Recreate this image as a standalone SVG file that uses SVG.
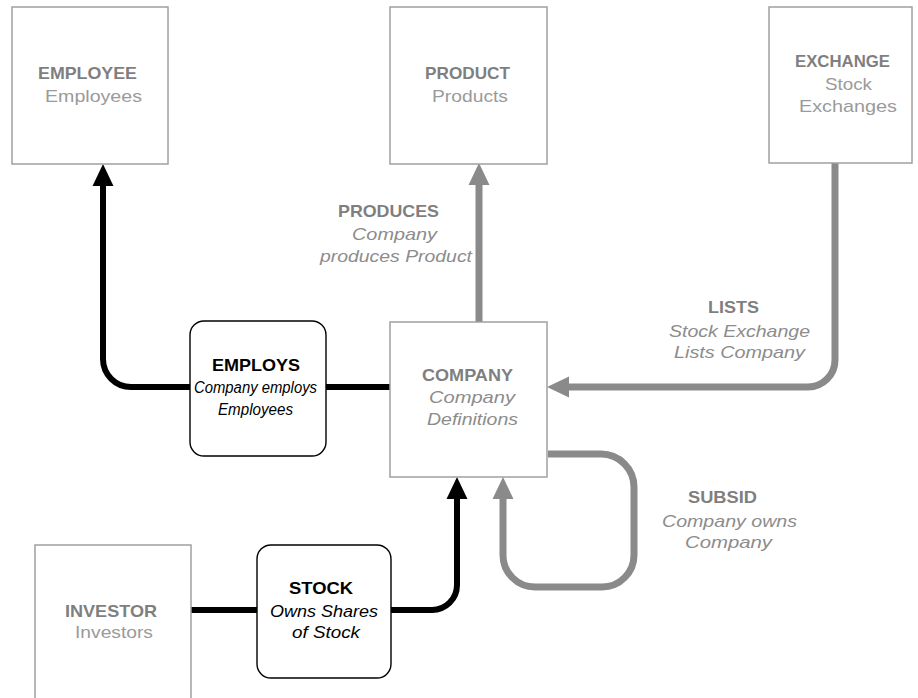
<svg xmlns="http://www.w3.org/2000/svg" width="918" height="698" viewBox="0 0 918 698">
  <style>
    text { font-family: "Liberation Sans", Arial, sans-serif; font-size: 16px; }
    .entity { fill: #ffffff; stroke: #a0a0a0; stroke-width: 1.5; }
    .rel { fill: #ffffff; stroke: #000000; stroke-width: 1.4; }
    .ttl { font-weight: bold; font-size: 17px; fill: #7f7f7f; }
    .sub { fill: #9a9a9a; font-size: 17px; }
    .subi { fill: #8c8c8c; font-style: italic; font-size: 17px; }
    .rttl { font-weight: bold; font-size: 17px; fill: #000000; }
    .rsub { fill: #000000; font-style: italic; }
    .blk { fill: none; stroke: #000000; stroke-width: 6; }
    .gry { fill: none; stroke: #8a8a8a; stroke-width: 7; }
  </style>
  <defs>
    <marker id="headBlack" markerUnits="userSpaceOnUse" markerWidth="22" markerHeight="22" refX="0" refY="10" orient="auto" viewBox="0 0 21 20">
      <path d="M0,0 L21,10 L0,20 z" fill="#000000"/>
    </marker>
    <marker id="headGray" markerUnits="userSpaceOnUse" markerWidth="22" markerHeight="22" refX="0" refY="10" orient="auto" viewBox="0 0 21 20">
      <path d="M0,0 L21,10 L0,20 z" fill="#8a8a8a"/>
    </marker>
  </defs>

  <!-- connectors -->
  <g id="connectors">
    <!-- EMPLOYS to EMPLOYEE -->
    <path class="blk" d="M190 387 H131 A28 28 0 0 1 103 359 V186" marker-end="url(#headBlack)"/>
    <!-- EMPLOYS to COMPANY -->
    <path class="blk" d="M326 387 H390"/>
    <!-- PRODUCES -->
    <path class="gry" d="M479 322 V185" marker-end="url(#headGray)"/>
    <!-- LISTS -->
    <path class="gry" d="M835 163 V360 A27 27 0 0 1 808 387 H569" marker-end="url(#headGray)"/>
    <!-- SUBSID -->
    <path class="gry" d="M548 454 H601 A33 33 0 0 1 634 487 V555 A32 32 0 0 1 602 587 H535 A32 32 0 0 1 503 555 V499" marker-end="url(#headGray)"/>
    <!-- INVESTOR to STOCK -->
    <path class="blk" d="M191 610 H257"/>
    <!-- STOCK to COMPANY -->
    <path class="blk" d="M391 610 H432 A25 25 0 0 0 457 585 V499" marker-end="url(#headBlack)"/>
  </g>

  <g id="employee">
    <rect class="entity" x="12" y="7" width="156" height="157"/>
    <text class="ttl" x="38" y="79" textLength="99" lengthAdjust="spacingAndGlyphs">EMPLOYEE</text>
    <text class="sub" x="45" y="102" textLength="97" lengthAdjust="spacingAndGlyphs">Employees</text>
  </g>

  <g id="product">
    <rect class="entity" x="390" y="7" width="157" height="157"/>
    <text class="ttl" x="425" y="79" textLength="85" lengthAdjust="spacingAndGlyphs">PRODUCT</text>
    <text class="sub" x="432" y="102" textLength="76" lengthAdjust="spacingAndGlyphs">Products</text>
  </g>

  <g id="exchange">
    <rect class="entity" x="769" y="7" width="143" height="156"/>
    <text class="ttl" x="795" y="67" textLength="95" lengthAdjust="spacingAndGlyphs">EXCHANGE</text>
    <text class="sub" x="825" y="90" textLength="47" lengthAdjust="spacingAndGlyphs">Stock</text>
    <text class="sub" x="799" y="112" textLength="98" lengthAdjust="spacingAndGlyphs">Exchanges</text>
  </g>

  <g id="company">
    <rect class="entity" x="390" y="322" width="157" height="155"/>
    <text class="ttl" x="422" y="381" textLength="91" lengthAdjust="spacingAndGlyphs">COMPANY</text>
    <text class="subi" x="429" y="403" textLength="86" lengthAdjust="spacingAndGlyphs">Company</text>
    <text class="subi" x="427" y="425" textLength="91" lengthAdjust="spacingAndGlyphs">Definitions</text>
  </g>

  <g id="investor">
    <rect class="entity" x="35" y="545" width="156" height="160"/>
    <text class="ttl" x="65" y="617" textLength="92" lengthAdjust="spacingAndGlyphs">INVESTOR</text>
    <text class="sub" x="75" y="638" textLength="78" lengthAdjust="spacingAndGlyphs">Investors</text>
  </g>

  <g id="employs">
    <rect class="rel" x="190" y="321" width="136" height="135" rx="14" ry="14"/>
    <text class="rttl" x="212" y="371" textLength="88" lengthAdjust="spacingAndGlyphs">EMPLOYS</text>
    <text class="rsub" x="194" y="393" textLength="123" lengthAdjust="spacingAndGlyphs">Company employs</text>
    <text class="rsub" x="218" y="415" textLength="75" lengthAdjust="spacingAndGlyphs">Employees</text>
  </g>

  <g id="stock">
    <rect class="rel" x="257" y="545" width="134" height="133" rx="14" ry="14"/>
    <text class="rttl" x="289" y="594" textLength="64" lengthAdjust="spacingAndGlyphs">STOCK</text>
    <text class="rsub" x="270" y="617" textLength="108" lengthAdjust="spacingAndGlyphs">Owns Shares</text>
    <text class="rsub" x="292" y="638" textLength="68" lengthAdjust="spacingAndGlyphs">of Stock</text>
  </g>

  <g id="produces-label">
    <text class="ttl" x="338" y="217" textLength="101" lengthAdjust="spacingAndGlyphs">PRODUCES</text>
    <text class="subi" x="352" y="240" textLength="85" lengthAdjust="spacingAndGlyphs">Company</text>
    <text class="subi" x="320" y="262" textLength="152" lengthAdjust="spacingAndGlyphs">produces Product</text>
  </g>

  <g id="lists-label">
    <text class="ttl" x="708" y="313" textLength="51" lengthAdjust="spacingAndGlyphs">LISTS</text>
    <text class="subi" x="669" y="337" textLength="141" lengthAdjust="spacingAndGlyphs">Stock Exchange</text>
    <text class="subi" x="674" y="358" textLength="131" lengthAdjust="spacingAndGlyphs">Lists Company</text>
  </g>

  <g id="subsid-label">
    <text class="ttl" x="688" y="503" textLength="69" lengthAdjust="spacingAndGlyphs">SUBSID</text>
    <text class="subi" x="662" y="527" textLength="135" lengthAdjust="spacingAndGlyphs">Company owns</text>
    <text class="subi" x="685" y="548" textLength="87" lengthAdjust="spacingAndGlyphs">Company</text>
  </g>
</svg>
